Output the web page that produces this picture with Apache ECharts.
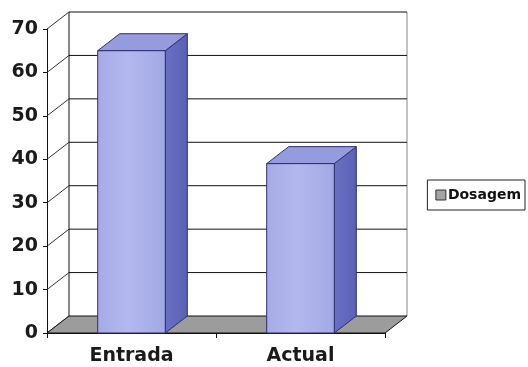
<!DOCTYPE html>
<html>
<head>
<meta charset="utf-8">
<script src="https://cdn.jsdelivr.net/npm/echarts@6/dist/echarts.min.js"></script>
<style>
  html, body { margin: 0; padding: 0; background: #ffffff; }
  #chart { width: 528px; height: 367px; }
</style>
</head>
<body>
<div id="chart"></div>
<script>
// Chart data
var categories = ['Entrada', 'Actual'];
var dosagem = [65, 39];
var yTicks = [0, 10, 20, 30, 40, 50, 60, 70];
var seriesName = 'Dosagem';

// Depth of the pseudo-3D box (pixels)
var DX = 22, DY = -17;
var FONT = '"DejaVu Sans", Verdana, sans-serif';

var chart = echarts.init(document.getElementById('chart'), null, { renderer: 'canvas' });

// Back wall, side wall and floor of the 3D frame
function renderWalls(params, api) {
  var cs = params.coordSys;
  var v = api.value(1);
  var y = api.coord([0, v])[1];
  var x0 = cs.x, x1 = cs.x + cs.width;
  var children = [];
  var lineStyle = { stroke: '#111', lineWidth: 1 };
  if (params.dataIndex === 0) {
    var yb = cs.y + cs.height, yt = cs.y;
    // back wall vertical edges
    children.push({ type: 'line', shape: { x1: x0 + DX, y1: yt + DY, x2: x0 + DX, y2: yb + DY }, style: lineStyle });
    children.push({ type: 'line', shape: { x1: x1 + DX, y1: yt + DY, x2: x1 + DX, y2: yb + DY }, style: { stroke: '#888', lineWidth: 1 } });
    // floor
    children.push({
      type: 'polygon', z2: 5,
      shape: { points: [[x0, yb], [x1, yb], [x1 + DX, yb + DY], [x0 + DX, yb + DY]] },
      style: { fill: '#9c9c9c', stroke: '#111', lineWidth: 1 }
    });
  }
  if (v > 0) {
    // gridline on the back wall
    children.push({ type: 'line', shape: { x1: x0 + DX, y1: y + DY, x2: x1 + DX, y2: y + DY }, style: lineStyle });
  }
  // gridline across the side wall
  children.push({ type: 'line', shape: { x1: x0, y1: y, x2: x0 + DX, y2: y + DY }, style: { stroke: '#333', lineWidth: 1 } });
  return { type: 'group', children: children };
}

// 3D column: front face, top and right side
function renderBar(params, api) {
  var base = api.coord([api.value(0), 0]);
  var top = api.coord([api.value(0), api.value(1)]);
  var w = api.size([1, 0])[0] * 0.4;
  var l = base[0] - w / 2, r = base[0] + w / 2;
  var yb = base[1], yt = top[1];
  var edge = { stroke: '#2b2f6e', lineWidth: 1 };
  return {
    type: 'group',
    children: [
      {
        type: 'polygon',
        shape: { points: [[r, yb], [r + DX, yb + DY], [r + DX, yt + DY], [r, yt]] },
        style: Object.assign({ fill: new echarts.graphic.LinearGradient(0, 0, 1, 0, [
          { offset: 0, color: '#6a70c4' }, { offset: 1, color: '#5a60b4' }]) }, edge)
      },
      {
        type: 'polygon',
        shape: { points: [[l, yt], [r, yt], [r + DX, yt + DY], [l + DX, yt + DY]] },
        style: Object.assign({ fill: '#959bdc' }, edge)
      },
      {
        type: 'rect',
        shape: { x: l, y: yt, width: w, height: yb - yt },
        style: Object.assign({ fill: new echarts.graphic.LinearGradient(0, 0, 1, 0, [
          { offset: 0, color: '#a6abe6' }, { offset: 0.45, color: '#b3b8ee' }, { offset: 1, color: '#a2a8e4' }]) }, edge)
      }
    ]
  };
}

chart.setOption({
  animation: false,
  backgroundColor: '#ffffff',
  grid: { left: 47, top: 29, width: 338, height: 304, containLabel: false },
  legend: {
    right: 3, top: 180,
    orient: 'vertical',
    padding: [8, 4, 8, 8],
    borderColor: '#222', borderWidth: 1,
    itemWidth: 10, itemHeight: 10, itemGap: 4,
    textStyle: { fontFamily: FONT, fontWeight: 'bold', fontSize: 14, color: '#111', padding: [0, 0, 0, -3] },
    data: [{ name: seriesName, icon: 'rect', itemStyle: { color: '#a4a4a4', borderColor: '#333', borderWidth: 1 } }]
  },
  xAxis: {
    type: 'category',
    data: categories,
    boundaryGap: true,
    axisLine: { show: true, lineStyle: { color: '#111', width: 1 } },
    axisTick: { show: true, length: 5, lineStyle: { color: '#111' } },
    axisLabel: { fontFamily: FONT, fontWeight: 'bold', fontSize: 19, color: '#1a1a1a', margin: 14 },
    splitLine: { show: false }
  },
  yAxis: {
    type: 'value',
    min: 0, max: 70, interval: 10,
    axisLine: { show: true, lineStyle: { color: '#111', width: 1 } },
    axisTick: { show: true, length: 4, lineStyle: { color: '#111' } },
    axisLabel: { fontFamily: FONT, fontWeight: 'bold', fontSize: 19, color: '#1a1a1a', margin: 9 },
    splitLine: { show: false }
  },
  series: [
    {
      type: 'custom',
      name: 'frame',
      silent: true,
      z: 1,
      renderItem: renderWalls,
      data: yTicks.map(function (v) { return [0, v]; })
    },
    {
      type: 'custom',
      name: seriesName,
      z: 3,
      itemStyle: { color: '#a4a4a4' },
      renderItem: renderBar,
      data: dosagem.map(function (v, i) { return [i, v]; })
    }
  ]
});
</script>
</body>
</html>
